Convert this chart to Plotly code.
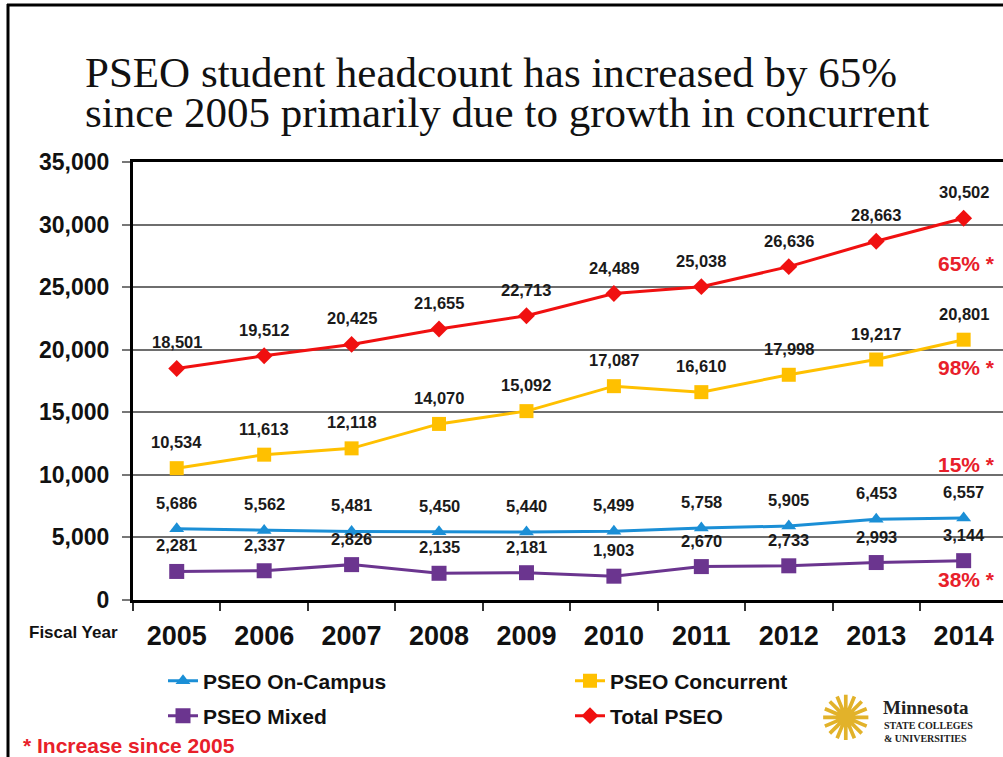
import plotly.graph_objects as go

# Fiscal years and PSEO headcounts by program type
years = ["2005", "2006", "2007", "2008", "2009", "2010", "2011", "2012", "2013", "2014"]
total_pseo = [18501, 19512, 20425, 21655, 22713, 24489, 25038, 26636, 28663, 30502]
concurrent = [10534, 11613, 12118, 14070, 15092, 17087, 16610, 17998, 19217, 20801]
on_campus = [5686, 5562, 5481, 5450, 5440, 5499, 5758, 5905, 6453, 6557]
mixed = [2281, 2337, 2826, 2135, 2181, 1903, 2670, 2733, 2993, 3144]

# Growth since 2005 shown at the right edge, with the y level of each note
growth_labels = ["65% *", "98% *", "15% *", "38% *"]
growth_y = [26900, 18550, 10800, 1600]

y_ticks = [0, 5000, 10000, 15000, 20000, 25000, 30000, 35000]

W, H = 1003, 757
ML, MT, MB = 133, 162, 157
PW, PH = W - ML, H - MT - MB

def px(x):
    return (x - ML) / PW

def py(y):
    return (H - MB - y) / PH

SANS = "Liberation Sans, Arial, sans-serif"
SERIF = "Liberation Serif, Times New Roman, serif"

series = [
    ("PSEO On-Campus", on_campus, "#1b8fd6", "triangle-up", 13, "legend"),
    ("PSEO Concurrent", concurrent, "#ffc000", "square", 14, "legend2"),
    ("PSEO Mixed", mixed, "#6b358f", "square", 15, "legend3"),
    ("Total PSEO", total_pseo, "#f01010", "diamond", 13, "legend4"),
]

fig = go.Figure()
for name, vals, color, symbol, size, leg in series:
    fig.add_trace(go.Scatter(
        x=years, y=vals, name=name, mode="lines+markers",
        line=dict(color=color, width=3),
        marker=dict(symbol=symbol, size=size, color=color),
        legend=leg,
    ))

annotations = []
# value labels above each point (x given as category index)
for name, vals, color, symbol, size, leg in series:
    for i, v in enumerate(vals):
        annotations.append(dict(
            x=i, y=v, xref="x", yref="y", text=f"{v:,}", showarrow=False,
            yshift=26, font=dict(family=SANS, size=16.5, color="#1a1a1a", weight="bold"),
        ))

for txt, gy in zip(growth_labels, growth_y):
    annotations.append(dict(
        x=len(years) - 1, y=gy, xref="x", yref="y", text=txt, showarrow=False,
        xshift=3, font=dict(family=SANS, size=21, color="#e8202a", weight="bold"),
    ))

# title, two lines
annotations.append(dict(
    x=px(84), y=py(72), xref="paper", yref="paper", xanchor="left", yanchor="middle",
    text="PSEO student headcount has increased by 65%", showarrow=False,
    font=dict(family=SERIF, size=43, color="#111111"), borderpad=0,
))
annotations.append(dict(
    x=px(84), y=py(113), xref="paper", yref="paper", xanchor="left", yanchor="middle",
    text="since 2005 primarily due to growth in concurrent", showarrow=False,
    font=dict(family=SERIF, size=43, color="#111111"), borderpad=0,
))

annotations.append(dict(
    x=px(27), y=py(632), xref="paper", yref="paper", xanchor="left", yanchor="middle",
    text="Fiscal Year", showarrow=False,
    font=dict(family=SANS, size=17, color="#111111", weight="bold"),
))
annotations.append(dict(
    x=px(21), y=py(745), xref="paper", yref="paper", xanchor="left", yanchor="middle",
    text="* Increase since 2005", showarrow=False,
    font=dict(family=SANS, size=21, color="#e8202a", weight="bold"),
))

# logo: emblem and wordmark
annotations.append(dict(
    x=px(846), y=py(718), xref="paper", yref="paper", xanchor="center", yanchor="middle",
    text="✺", showarrow=False,
    font=dict(family="DejaVu Sans", size=62, color="#e2b22a"),
))
annotations.append(dict(
    x=px(881), y=py(707), xref="paper", yref="paper", xanchor="left", yanchor="middle",
    text="Minnesota", showarrow=False,
    font=dict(family=SERIF, size=19, color="#222222", weight="bold"),
))
annotations.append(dict(
    x=px(882), y=py(725), xref="paper", yref="paper", xanchor="left", yanchor="middle",
    text="STATE COLLEGES", showarrow=False,
    font=dict(family=SERIF, size=10, color="#222222", weight="bold"),
))
annotations.append(dict(
    x=px(882), y=py(738), xref="paper", yref="paper", xanchor="left", yanchor="middle",
    text="&amp; UNIVERSITIES", showarrow=False,
    font=dict(family=SERIF, size=10, color="#222222", weight="bold"),
))

# slide frame on the left and top edges
shapes = [
    dict(type="line", xref="paper", yref="paper", x0=px(8), x1=px(8), y0=py(4), y1=py(H + 5),
         line=dict(color="#000000", width=3)),
    dict(type="line", xref="paper", yref="paper", x0=px(7), x1=px(W + 5), y0=py(5), y1=py(5),
         line=dict(color="#000000", width=3)),
]

leg_font = dict(family=SANS, size=21, color="#111111", weight="bold")
def legend_at(x, y):
    return dict(x=px(x), y=py(y), xanchor="left", yanchor="middle", orientation="h",
                font=leg_font, bgcolor="rgba(0,0,0,0)", itemclick=False)

fig.update_layout(
    width=W, height=H,
    margin=dict(l=ML, r=0, t=MT, b=MB),
    paper_bgcolor="white", plot_bgcolor="white",
    showlegend=True,
    legend=legend_at(163, 681),
    legend2=legend_at(570, 681),
    legend3=legend_at(163, 716),
    legend4=legend_at(570, 716),
    xaxis=dict(
        type="category", range=[-0.5, 9.45], showgrid=False,
        showline=True, linecolor="#000000", linewidth=3, mirror=True,
        ticks="outside", tickson="boundaries", ticklen=8, tickcolor="#333333", tickwidth=1.5,
        tickfont=dict(family=SANS, size=27, color="#111111", weight="bold"),
        ticklabelstandoff=10,
    ),
    yaxis=dict(
        range=[0, 35000], tickvals=y_ticks, tickformat=",d",
        showgrid=True, gridcolor="#6e6e6e", gridwidth=1.5,
        showline=True, linecolor="#000000", linewidth=3,
        ticks="outside", ticklen=8, tickcolor="#777777", tickwidth=1.5,
        tickfont=dict(family=SANS, size=23, color="#111111", weight="bold"),
        ticklabelstandoff=8, zeroline=False,
    ),
    annotations=annotations,
    shapes=shapes,
)

fig.write_html("out.html")
